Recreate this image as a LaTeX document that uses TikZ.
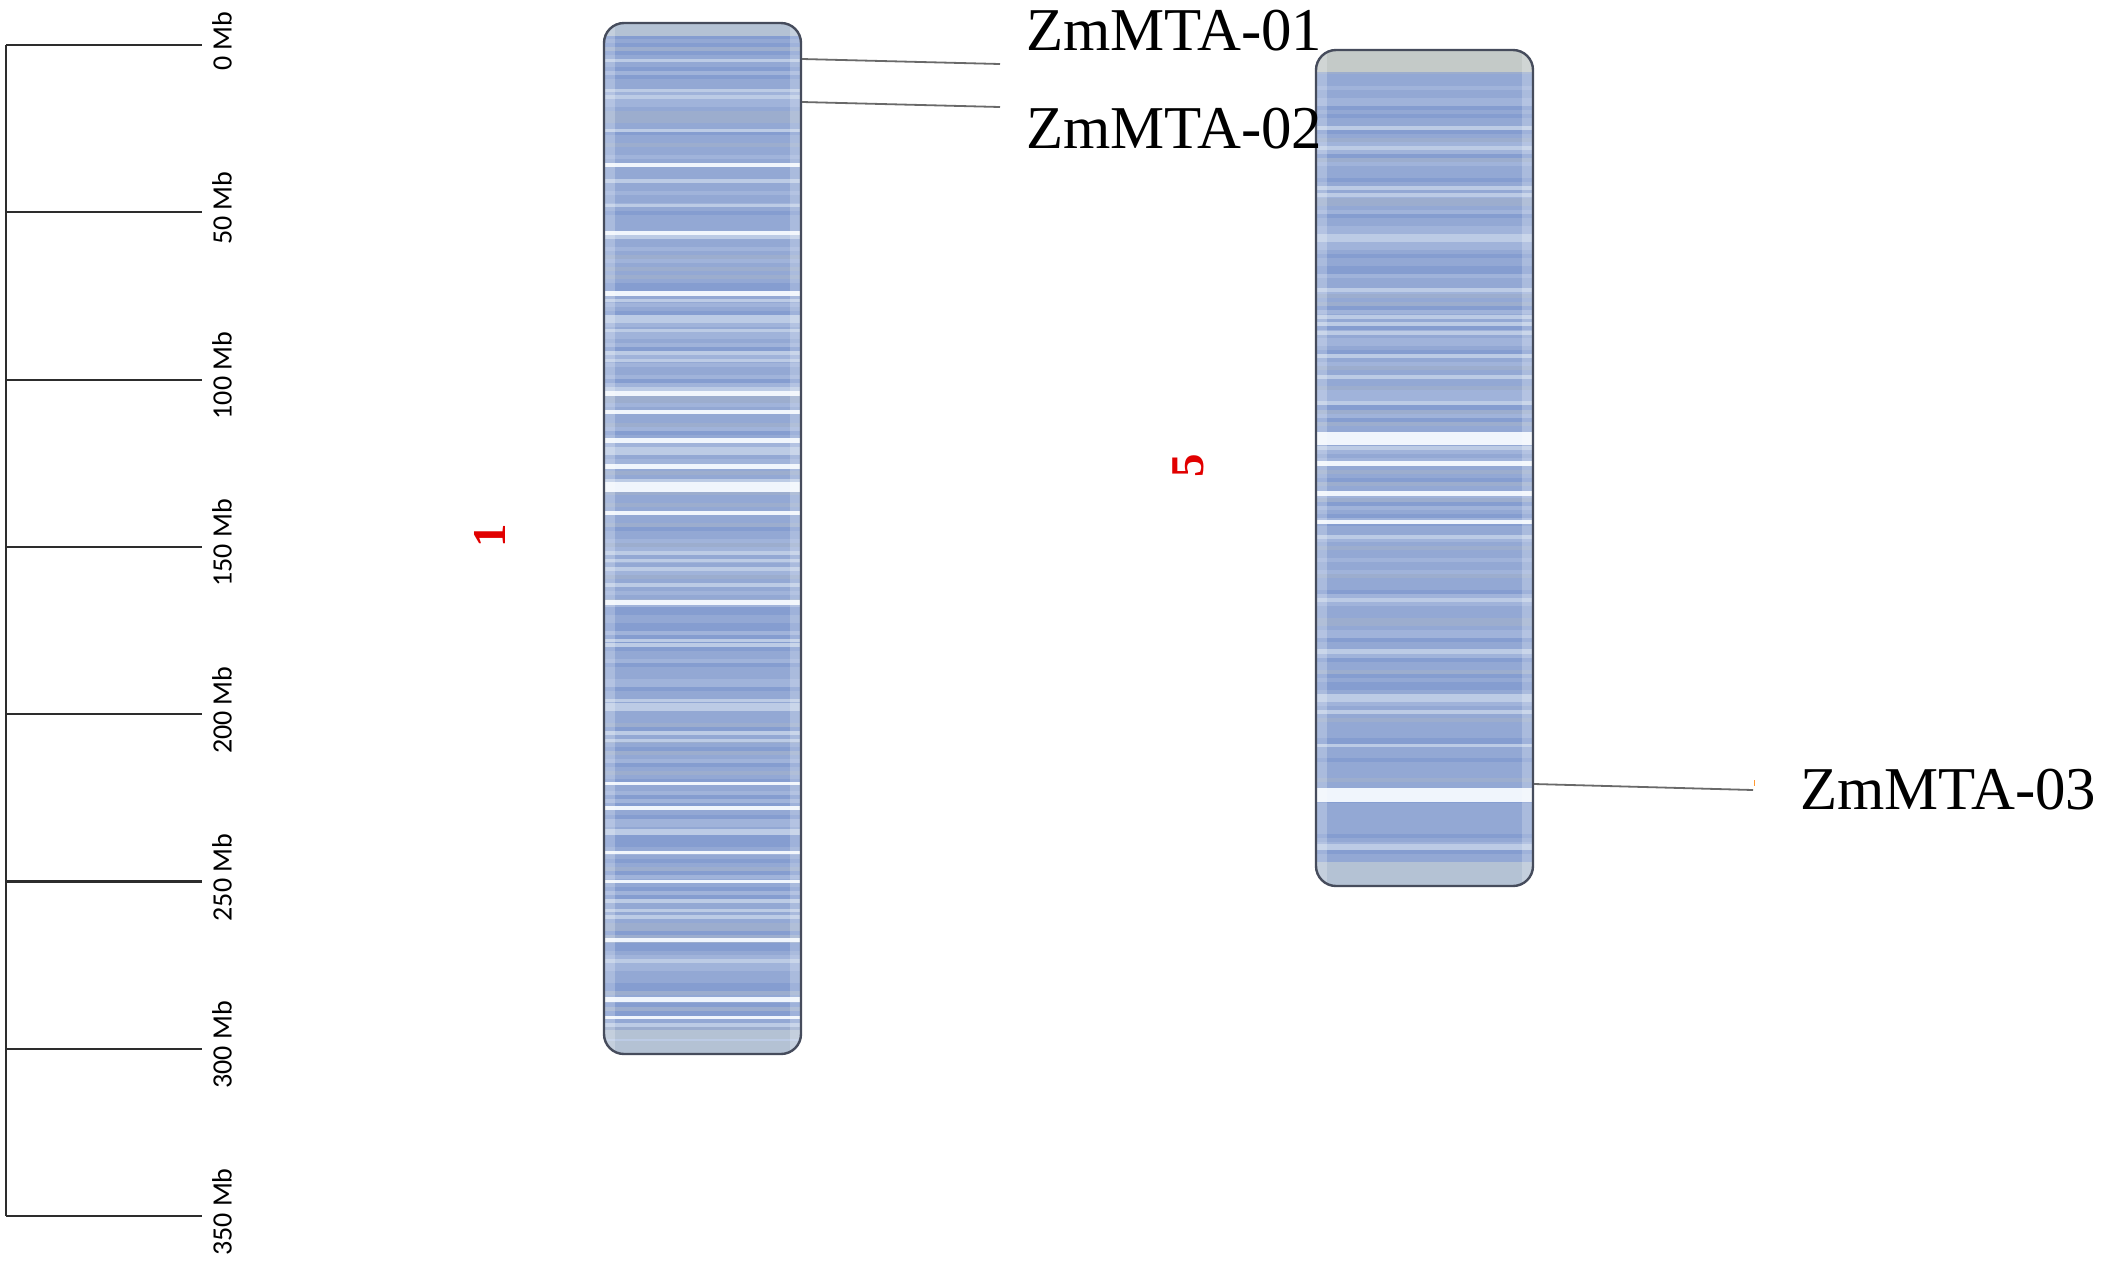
\documentclass[tikz,border=0pt]{standalone}
\usepackage{fontspec}
\setmainfont{Liberation Serif}
\newfontfamily\rulerfont{Carlito}
\definecolor{cA}{RGB}{147,168,212}
\definecolor{cB}{RGB}{133,157,208}
\definecolor{cC}{RGB}{160,179,218}
\definecolor{cD}{RGB}{156,173,206}
\definecolor{cE}{RGB}{188,203,229}
\definecolor{cW}{RGB}{240,245,252}
\definecolor{cEndA}{RGB}{180,194,212}
\definecolor{cEndB}{RGB}{196,202,200}
\definecolor{chrborder}{RGB}{70,76,92}
\definecolor{rulercol}{RGB}{45,45,45}
\definecolor{leadcol}{RGB}{105,105,105}
\definecolor{chrred}{RGB}{225,0,0}
\pgfmathdeclarerandomlist{bandlist}{{cA}{cA}{cA}{cA}{cB}{cB}{cC}{cC}{cD}{cA}{cB}{cE}{cD}{cA}{cC}{cA}}
\begin{document}
\begin{tikzpicture}[x=0.5pt,y=-0.5pt,
  ruler/.style={draw=rulercol,line width=1.1pt},
  ticklabel/.style={font=\rulerfont\fontsize{14pt}{16pt}\selectfont,rotate=90,inner sep=0pt,anchor=center},
  chrom/.style={draw=chrborder,line width=1.2pt,rounded corners=10pt,inner sep=0pt,fill=none},
  genelabel/.style={font=\fontsize{30.4pt}{33pt}\selectfont,inner sep=0pt,anchor=base west},
  chrlabel/.style={font=\bfseries\fontsize{23.5pt}{26pt}\selectfont,text=chrred,rotate=90,inner sep=0pt},
  lead/.style={draw=leadcol,line width=0.9pt}]
\useasboundingbox (0,0) rectangle (2105,1260);
\fill[white] (0,0) rectangle (2105,1260);

% ---------------- ruler ----------------
\coordinate (rtop) at (6,45);
\coordinate (rbot) at (6,1216);
\draw[ruler] (rtop) -- (rbot);
\foreach \i in {0,...,7}{
  \pgfmathsetmacro\yy{45+\i*167.3}
  \pgfmathtruncatemacro\mb{\i*50}
  \coordinate (ta\i) at (6,\yy);
  \coordinate (tb\i) at (202,\yy);
  \draw[ruler] (ta\i) -- (tb\i);
  \node[ticklabel] (tl\i) at (222,\yy-4) {\mb\ Mb};
}

% ---------------- chromosome 1 ----------------
\pgfmathsetseed{4711}
\begin{scope}
  \clip[rounded corners=10pt] (604,23) rectangle (801,1054);
  \fill[cA] (604,23) rectangle (801,1054);
  \foreach \yy in {23,27,...,1052}{
    \pgfmathrandomitem{\bc}{bandlist}
    \fill[\bc] (604,\yy) rectangle (801,\yy+4.2);
  }
  \fill[cEndA] (604,23) rectangle (801,36);
  \fill[cEndA] (604,1030) rectangle (801,1054);
  \foreach \yy/\hh in {60/3,90/3,130/3,205/3,300/3,330/3,360/3,560/3,640/3,700/3,740/3,830/3,910/3,960/3,1040/2}{
    \fill[cE] (604,\yy-\hh/2) rectangle (801,\yy+\hh/2);
  }
  \foreach \yy/\hh in {165/4,233/4,293/5,393/5,412/4,440/5,466/5,487/10,513/4,602/5,783/3,808/4,852/3,881/3,940/4,999/5,1017/3}{
    \fill[cW] (604,\yy-\hh/2) rectangle (801,\yy+\hh/2);
  }
  \fill[white,opacity=0.22] (604,23) rectangle (615,1054);
  \fill[white,opacity=0.22] (790,23) rectangle (801,1054);
\end{scope}
\node[chrom,minimum width=98.5pt,minimum height=515.5pt] (chr1) at (702.5,538.5) {};

% ---------------- chromosome 5 ----------------
\pgfmathsetseed{2024}
\begin{scope}
  \clip[rounded corners=10pt] (1316,50) rectangle (1533,886);
  \fill[cA] (1316,50) rectangle (1533,886);
  \foreach \yy in {50,54,...,884}{
    \pgfmathrandomitem{\bc}{bandlist}
    \fill[\bc] (1316,\yy) rectangle (1533,\yy+4.2);
  }
  \fill[cEndB] (1316,50) rectangle (1533,72);
  \fill[cEndA] (1316,862) rectangle (1533,886);
  \fill[cA] (1316,803) rectangle (1533,830);
  \foreach \yy/\hh in {195/4,290/4,317/4,333/4,377/4,403/4,537/4,600/3,650/3,700/3,745/3,845/3}{
    \fill[cE] (1316,\yy-\hh/2) rectangle (1533,\yy+\hh/2);
  }
  \foreach \yy/\hh in {438/13,463/5,493/5,522/4,795/14}{
    \fill[cW] (1316,\yy-\hh/2) rectangle (1533,\yy+\hh/2);
  }
  \fill[white,opacity=0.22] (1316,50) rectangle (1327,886);
  \fill[white,opacity=0.22] (1522,50) rectangle (1533,886);
\end{scope}
\node[chrom,minimum width=108.5pt,minimum height=418pt] (chr5) at (1424.5,468) {};

% ---------------- chromosome labels ----------------
\node[chrlabel] (lab1) at (490,536) {1};
\node[chrlabel] (lab5) at (1188,466) {5};

% ---------------- gene labels and leaders ----------------
\node[genelabel] (g1) at (1026,50) {ZmMTA-01};
\node[genelabel] (g2) at (1026,148) {ZmMTA-02};
\node[genelabel] (g3) at (1800,809) {ZmMTA-03};

\coordinate (s1) at (chr1.east |- 0,59);
\coordinate (e1) at (1000,64);
\coordinate (s2) at (chr1.east |- 0,102);
\coordinate (e2) at (1000,107);
\coordinate (s3) at (chr5.east |- 0,784);
\coordinate (e3) at (1753,790);
\draw[lead] (s1) -- (e1);
\draw[lead] (s2) -- (e2);
\draw[lead] (s3) -- (e3);
\coordinate (o1) at (1754,780);
\coordinate (o2) at (1754,786);
\draw[orange!80,line width=0.5pt] (o1) -- (o2);
\end{tikzpicture}
\end{document}
